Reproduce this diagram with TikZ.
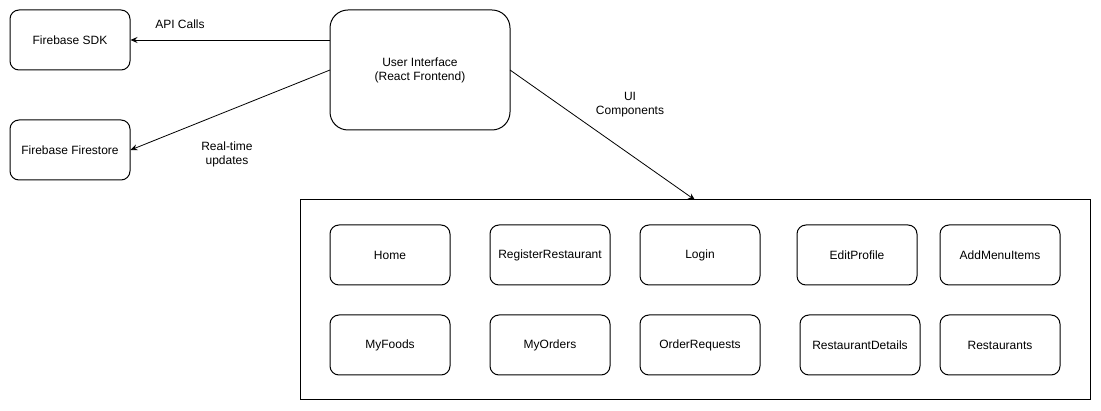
\documentclass[tikz,border=0pt]{standalone}
\usepackage{fontspec}
\setmainfont{Liberation Sans}
\usetikzlibrary{arrows.meta}
\begin{document}
\begin{tikzpicture}[x=1pt,y=-1pt,
  box/.style={draw=black,line width=1pt,rounded corners=9pt,minimum width=120pt,minimum height=60pt,inner sep=0pt,align=center,font=\fontsize{12}{14}\selectfont},
  bigbox/.style={box,rounded corners=18pt,minimum width=180pt,minimum height=120pt},
  conn/.style={line width=0.8pt,-{Stealth[length=7pt,width=6pt,inset=2.5pt]}},
  lbl/.style={align=center,font=\fontsize{12}{14}\selectfont,inner sep=0pt}]
\useasboundingbox (0,0) rectangle (1101,411);
\node[box] (sdk) at (70,40) {Firebase SDK};
\node[box] (fs) at (70,150) {Firebase Firestore};
\node[bigbox] (ui) at (420,70) {User Interface\\(React Frontend)};
\node[draw=black,line width=1pt,minimum width=790pt,minimum height=200pt,inner sep=0pt] (cont) at (695,300) {};
\node[box] (home) at (390,255) {Home};
\node[box] (reg) at (550,255) {RegisterRestaurant};
\node[box] (login) at (700,255) {Login};
\node[box] (edit) at (857,255) {EditProfile};
\node[box] (add) at (1000,255) {AddMenuItems};
\node[box] (myfoods) at (390,345) {MyFoods};
\node[box] (myorders) at (550,345) {MyOrders};
\node[box] (orderreq) at (700,345) {OrderRequests};
\node[box] (rdetails) at (860,345) {RestaurantDetails};
\node[box] (rests) at (1000,345) {Restaurants};
\coordinate (uil) at (330,40);
\coordinate (uil2) at (330,70);
\coordinate (uir) at (510,70);
\coordinate (ctop) at (695,200);
\draw[conn] (uil) -- (sdk.east);
\draw[conn] (uil2) -- (fs.east);
\draw[conn] (uir) -- (ctop);
\node[lbl] (l1) at (180,24) {API Calls};
\node[lbl] (l2) at (227,154) {Real-time\\updates};
\node[lbl] (l3) at (630,105) {UI\\Components};
\end{tikzpicture}
\end{document}
